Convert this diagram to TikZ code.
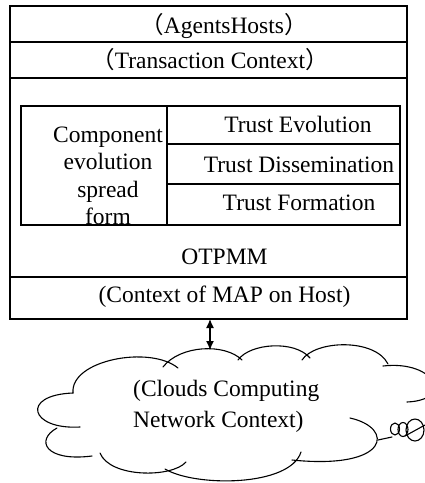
\documentclass[tikz,border=0pt]{standalone}
\usepackage{fontspec}
\setmainfont{Liberation Serif}
\newfontfamily\cjkfont{Noto Sans CJK SC}
\usetikzlibrary{arrows.meta}
\begin{document}
\begin{tikzpicture}[x=1pt,y=-1pt,
  frame/.style={draw, line width=1.3pt, inner sep=0pt, outer sep=0pt},
  cell/.style={draw, line width=1.1pt, inner sep=0pt, outer sep=0pt},
  lbl/.style={anchor=base, inner sep=0pt, font=\fontsize{23.5}{27.5}\selectfont},
  puff/.style={line width=1.1pt, line cap=round},
  link/.style={{Latex[length=9pt,width=8pt]}-{Latex[length=9pt,width=8pt]}, line width=1.3pt}]
\useasboundingbox (0,0) rectangle (425,483);
\fill[white] (0,0) rectangle (425,483);

% outer stack of layers
\node[frame, minimum width=397pt, minimum height=36pt]  (agents) at (208.5,24) {};
\node[frame, minimum width=397pt, minimum height=36pt]  (trans)  at (208.5,60) {};
\node[frame, minimum width=397pt, minimum height=199pt] (otpmm)  at (208.5,177.5) {};
\node[frame, minimum width=397pt, minimum height=42pt]  (host)   at (208.5,298) {};

% inner component block
\node[cell, minimum width=146pt, minimum height=119pt] (comp) at (94,165.5) {};
\node[cell, minimum width=233pt, minimum height=38pt]  (evo)  at (283.5,125) {};
\node[cell, minimum width=233pt, minimum height=40pt]  (diss) at (283.5,164) {};
\node[cell, minimum width=233pt, minimum height=41pt]  (form) at (283.5,204.5) {};

% labels (the multi-line one is anchored on the baseline of its last line)
\node[lbl] (agentsT) at (224,33) {{\cjkfont （}AgentsHosts{\cjkfont ）}};
\node[lbl] (transT)  at (210,68) {{\cjkfont （}Transaction Context{\cjkfont ）}};
\node[lbl] (evoT)    at (298,132) {Trust Evolution};
\node[lbl] (dissT)   at (299,172) {Trust Dissemination};
\node[lbl] (formT)   at (299,210) {Trust Formation};
\node[lbl, align=center] (compT) at (108,224.5) {Component\\evolution\\spread\\form};
\node[lbl] (otpmmT)  at (224.5,264) {OTPMM};
\node[lbl] (hostT)   at (224.5,302) {(Context of MAP on Host)};

% cloud outline
\coordinate (cloudtop) at (210,350);
\begin{scope}
\clip (0,0) rectangle (425,483);
\draw[puff] (80,427) .. controls (30,430) and (20,395) .. (73,393);
\draw[puff] (57,428) .. controls (35,440) and (45,462) .. (92,456);
\draw[puff] (100,453) .. controls (110,478) and (172,478) .. (186,462);
\draw[puff] (165,469) .. controls (195,487) and (290,487) .. (301,452);
\draw[puff] (350,418) .. controls (395,428) and (390,470) .. (292,460);
\draw[puff] (383,366) .. controls (435,360) and (455,400) .. (407,402);
\draw[puff] (302,360) .. controls (315,340) and (375,338) .. (388,364);
\draw[puff] (238,360) .. controls (250,343) and (295,340) .. (310,358);
\draw[puff] (163,367) .. controls (180,345) and (225,343) .. (242,360);
\draw[puff] (73,393) .. controls (70,360) and (150,345) .. (178,368);
% small trailing bubbles
\draw[puff] (378,440) -- (392,437);
\draw[puff] (395,429) ellipse [x radius=4.5pt, y radius=6pt];
\draw[puff] (403,429.5) ellipse [x radius=5pt, y radius=7pt];
\draw[puff] (415,430) ellipse [x radius=9pt, y radius=11pt];
\draw[puff] (405,436) -- (425,425);
\end{scope}

\node[lbl, anchor=base west] (cloudA) at (133,396) {(Clouds Computing};
\node[lbl, anchor=base west] (cloudB) at (133,427) {Network Context)};

% link between host context and network
\draw[link] (host.south -| cloudtop) -- (cloudtop);
\end{tikzpicture}
\end{document}
